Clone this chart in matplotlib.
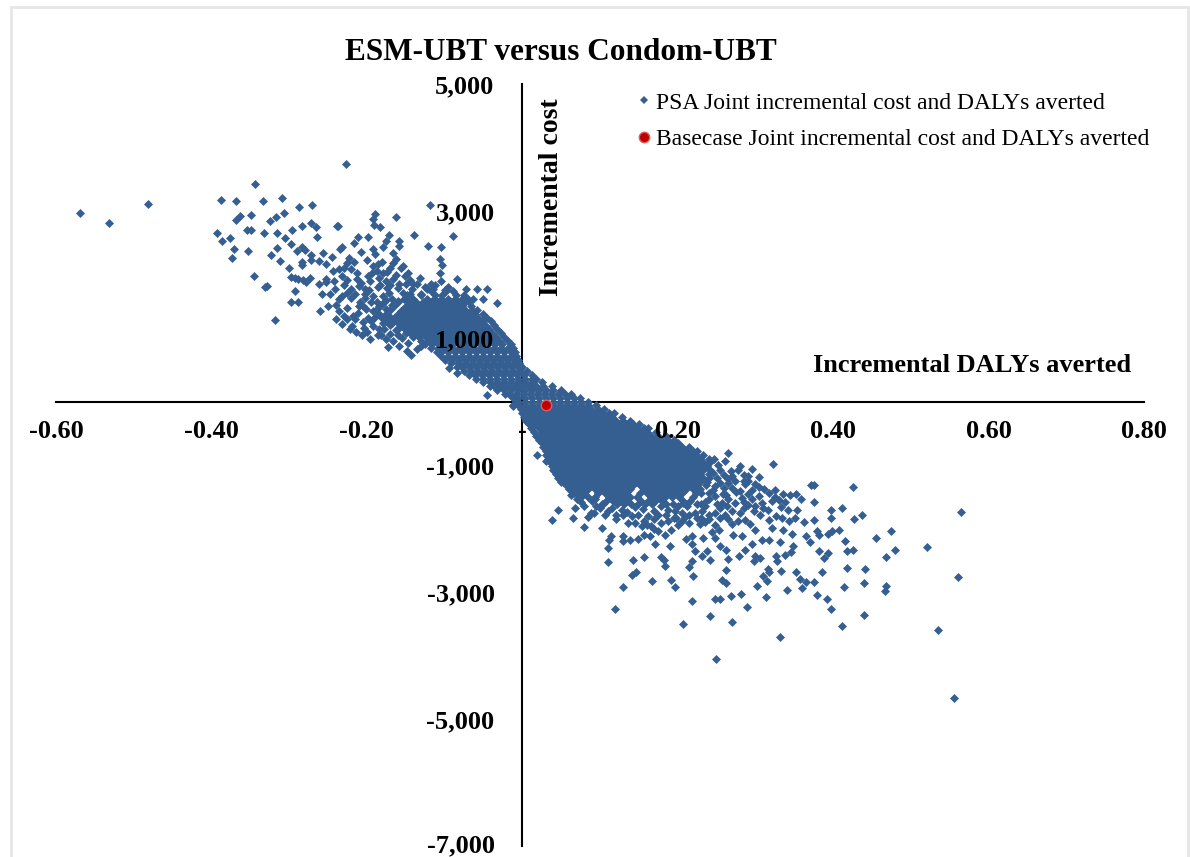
import numpy as np
import matplotlib.pyplot as plt
from matplotlib.lines import Line2D
from matplotlib.patches import Rectangle
from matplotlib.transforms import ScaledTranslation

plt.rcParams['font.family'] = ['Liberation Serif', 'DejaVu Serif']

title = 'ESM-UBT versus Condom-UBT'
x_ticks = [-0.6, -0.4, -0.2, 0, 0.2, 0.4, 0.6, 0.8]
x_tick_labels = ['-0.60', '-0.40', '-0.20', '-', '0.20', '0.40', '0.60', '0.80']
y_ticks = [5000, 3000, 1000, -1000, -3000, -5000, -7000]
y_tick_labels = ['5,000', '3,000', '1,000', '-1,000', '-3,000', '-5,000', '-7,000']
base_x = [0.0305]
base_y = [-58]

# left tail
left_tail = [
    (-.569, 2961), (-.532, 2814), (-.482, 3103), (-.388, 3171), (-.368, 3155), (-.344, 3428), (-.333, 3155),
    (-.309, 3208), (-.287, 3066), (-.270, 3098), (-.227, 3743), (-.119, 3087), (-.393, 2657), (-.387, 2530),
    (-.376, 2578), (-.371, 2405), (-.374, 2252), (-.353, 2363), (-.363, 2924), (-.369, 2851), (-.349, 2940),
    (-.354, 2699), (-.349, 2699), (-.332, 2657), (-.325, 2835), (-.317, 2898), (-.307, 2972), (-.315, 2646),
    (-.305, 2573), (-.296, 2699), (-.284, 2762), (-.298, 2483), (-.315, 2410), (-.323, 2305), (-.312, 2210),
    (-.345, 1974), (-.331, 1811), (-.329, 1825), (-.292, 1743), (-.297, 1565), (-.288, 1565), (-.318, 1276),
    (-.300, 2095), (-.272, 2809), (-.266, 2746), (-.264, 2588), (-.239, 2762), (-.237, 2770), (-.290, 2368),
    (-.284, 2436), (-.279, 2384), (-.272, 2300), (-.272, 2226), (-.283, 2200), (-.284, 2142), (-.257, 2331),
    (-.261, 2216), (-.245, 2273), (-.252, 2158), (-.297, 1964), (-.292, 1950), (-.288, 1935), (-.282, 1915),
    (-.278, 1875), (-.273, 1950), (-.261, 1843), (-.252, 1880), (-.258, 1696), (-.241, 1764), (-.260, 1423),
    (-.234, 2394), (-.232, 2436), (-.217, 2489), (-.211, 2594), (-.199, 2588), (-.207, 2352), (-.190, 2945),
    (-.192, 2867), (-.191, 2772), (-.183, 2746), (-.163, 2909), (-.171, 2615), (-.175, 2525), (-.179, 2436),
    (-.159, 2525), (-.158, 2445), (-.139, 2615), (-.121, 2447), (-.104, 2436), (-.089, 2604), (-.106, 2237),
    (-.103, 2142), (-.106, 2027), (-.104, 1895), (-.084, 1922), (-.073, 1764), (-.058, 1764), (-.045, 1775),
    (-.033, 1544), (-.050, 1607), (-.063, 1622), (-.236, 2079), (-.232, 1974), (-.223, 2263), (-.225, 2185),
    (-.216, 2195), (-.221, 2079), (-.236, 1607), (-.225, 1711), (-.221, 1764), (-.232, 1659), (-.210, 1817),
    (-.203, 1764), (-.192, 2394), (-.190, 2315), (-.166, 2341), (-.162, 2237), (-.166, 2184), (-.192, 2131),
    (-.186, 2158), (-.194, 2027), (-.179, 2027), (-.184, 1948), (-.196, 1895), (-.166, 1922), (-.158, 1843),
    (-.147, 2027), (-.132, 1948), (-.141, 1843), (-.122, 1764), (-.153, 1711), (-.171, 1711), (-.179, 1659),
    (-.192, 1659), (-.203, 1633), (-.210, 1501), (-.201, 1449), (-.192, 1423), (-.184, 1501), (-.236, 1423),
    (-.230, 1344), (-.225, 1292), (-.215, 1292), (-.219, 1186), (-.222, 1134), (-.204, 1150), (-.196, 992),
    (-.186, 1055), (-.192, 1186), (-.179, 1239), (-.173, 856), (-.158, 871), (-.166, 950), (-.143, 740),
    (-.136, 819), (-.147, 924), (-.094, 530), (-.084, 451), (-.045, 110), (-.012, -63), (-.183, 1830),
    (-.174, 2040), (-.170, 2100), (-.153, 2130), (-.151, 1980), (-.118, 1850), (-.095, 1800), (-.209, 1560),
    (-.198, 1320), (-.185, 1380), (-.244, 2050), (-.252, 1930), (-.213, 1935), (-.197, 1760), (-.150, 1850),
    (-.160, 1780), (-.142, 1770), (-.174, 1785), (-.187, 1560), (-.205, 1250), (-.212, 1400), (-.225, 1480),
    (-.178, 1140), (-.170, 1060), (-.155, 1000), (-.148, 800), (-.130, 880), (-.170, 1330), (-.202, 1690),
    (-.240, 1300), (-.232, 1220), (-.218, 1350), (-.214, 1100), (-.206, 1040), (-.200, 1100), (-.195, 1260),
    (-.190, 1330), (-.185, 1140), (-.182, 1040), (-.176, 980), (-.168, 1240), (-.163, 1130), (-.158, 1220),
    (-.156, 1420), (-.175, 1450), (-.168, 1520), (-.160, 1590), (-.176, 1600), (-.195, 1570), (-.205, 1500),
    (-.220, 1630), (-.215, 1700), (-.207, 1860), (-.198, 1970), (-.187, 2060), (-.175, 1900), (-.170, 1830),
    (-.163, 1990), (-.156, 2100), (-.145, 1910), (-.135, 1850), (-.125, 1800), (-.112, 1830), (-.100, 1760),
    (-.230, 1840), (-.226, 1910), (-.242, 1900), (-.248, 1700), (-.250, 1500), (-.240, 1520), (-.186, 1800),
    (-.180, 2200), (-.200, 2230), (-.213, 2020), (-.230, 2100), (-.152, 1620), (-.145, 1700), (-.130, 1700),
    (-.115, 1770), (-.160, 1040), (-.150, 1130), (-.145, 1080),
]

# upper part of the dense band: (cost, [dalys])
upper_rows = [
    (1740, [-.118, -.098, -.089]),
    (1680, [-.148, -.130, -.112, -.103, -.085, -.075]),
    (1620, [-.168, -.150, -.141, -.123, -.114, -.105, -.096, -.087, -.078, -.070]),
    (1560, [-.178, -.160, -.146, -.137, -.128, -.119, -.110, -.101, -.092, -.083, -.074, -.068]),
    (1500, [-.183, -.165, -.150, -.141, -.132, -.123, -.114, -.105, -.096, -.087, -.078, -.066]),
    (1440, [-.188, -.170, -.155, -.146, -.137, -.128, -.119, -.110, -.101, -.092, -.083, -.074, -.065, -.058]),
    (1380, [-.176, -.160, -.151, -.142, -.133, -.124, -.115, -.106, -.097, -.088, -.079, -.070, -.061, -.050]),
    (1320, [-.180, -.165, -.156, -.147, -.138, -.129, -.120, -.111, -.102, -.093, -.084, -.075, -.066, -.057, -.045]),
    (1260, [-.175, -.160, -.151, -.142, -.133, -.124, -.115, -.106, -.097, -.088, -.079, -.070, -.061, -.052, -.040]),
    (1200, [-.170, -.156, -.147, -.138, -.129, -.120, -.111, -.102, -.093, -.084, -.075, -.066, -.057, -.048, -.036]),
    (1140, [-.160, -.151, -.142, -.133, -.124, -.115, -.106, -.097, -.088, -.079, -.070, -.061, -.052, -.043, -.032]),
    (1080, [-.150, -.138, -.129, -.120, -.111, -.102, -.093, -.084, -.075, -.066, -.057, -.048, -.039, -.027]),
    (1020, [-.140, -.133, -.124, -.115, -.106, -.097, -.088, -.079, -.070, -.061, -.052, -.043, -.034, -.023]),
    (960, [-.130, -.120, -.111, -.102, -.093, -.084, -.075, -.066, -.057, -.048, -.039, -.030, -.018]),
    (900, [-.125, -.116, -.107, -.098, -.089, -.080, -.071, -.062, -.053, -.044, -.035, -.026, -.014]),
    (840, [-.118, -.109, -.100, -.091, -.082, -.073, -.064, -.055, -.046, -.037, -.028, -.019, -.012]),
    (780, [-.110, -.104, -.095, -.086, -.077, -.068, -.059, -.050, -.041, -.032, -.023, -.014, -.010]),
    (720, [-.105, -.096, -.087, -.078, -.069, -.060, -.051, -.042, -.033, -.024, -.015, -.008]),
    (660, [-.100, -.091, -.082, -.073, -.064, -.055, -.046, -.037, -.028, -.019, -.010, -.006]),
    (600, [-.092, -.083, -.074, -.065, -.056, -.047, -.038, -.029, -.020, -.011, -.004]),
    (540, [-.084, -.078, -.069, -.060, -.051, -.042, -.033, -.024, -.015, -.006, .000]),
    (480, [-.075, -.066, -.057, -.048, -.039, -.030, -.021, -.012, -.003, .006]),
    (420, [-.068, -.061, -.052, -.043, -.034, -.025, -.016, -.007, .002, .012]),
    (360, [-.060, -.051, -.042, -.033, -.024, -.015, -.006, .003, .012, .018]),
    (300, [-.050, -.041, -.032, -.023, -.014, -.005, .004, .013, .025]),
    (240, [-.042, -.036, -.027, -.018, -.009, .000, .009, .018, .027, .038]),
    (180, [-.032, -.023, -.014, -.005, .004, .013, .022, .031, .040, .050]),
    (120, [-.022, -.017, -.008, .001, .010, .019, .028, .037, .046, .055, .063]),
    (60, [-.012, -.006, .003, .012, .021, .030, .039, .048, .057, .066, .074]),
    (0, [-.006, .003, .012, .021, .030, .039, .048, .057, .066, .075, .085]),
]

# lower part of the dense band
lower_rows = [
    (-60, [-.005, .004, .013, .022, .031, .040, .049, .058, .067, .076, .085, .095]),
    (-120, [-.002, .008, .017, .026, .035, .044, .053, .062, .071, .080, .089, .098, .105]),
    (-180, [.000, .004, .013, .022, .031, .040, .049, .058, .067, .076, .085, .094, .103, .112, .118]),
    (-240, [.002, .008, .017, .026, .035, .044, .053, .062, .071, .080, .089, .098, .107, .116, .128]),
    (-300, [.005, .013, .022, .031, .040, .049, .058, .067, .076, .085, .094, .103, .112, .121, .130, .138]),
    (-360, [.008, .017, .026, .035, .044, .053, .062, .071, .080, .089, .098, .107, .116, .125, .134, .143, .150]),
    (-420, [.011, .022, .031, .040, .049, .058, .067, .076, .085, .094, .103, .112, .121, .130, .139, .148, .157, .162]),
    (-480, [.015, .026, .035, .044, .053, .062, .071, .080, .089, .098, .107, .116, .125, .134, .143, .152, .161, .172]),
    (-540, [.018, .022, .031, .040, .049, .058, .067, .076, .085, .094, .103, .112, .121, .130, .139, .148, .157, .166, .175, .185]),
    (-600, [.022, .026, .035, .044, .053, .062, .071, .080, .089, .098, .107, .116, .125, .134, .143, .152, .161, .170, .179, .188, .195]),
    (-660, [.025, .031, .040, .049, .058, .067, .076, .085, .094, .103, .112, .121, .130, .139, .148, .157, .166, .175, .184, .193, .200]),
    (-720, [.027, .035, .044, .053, .062, .071, .080, .089, .098, .107, .116, .125, .134, .143, .152, .161, .170, .179, .188, .197, .206, .215]),
    (-780, [.030, .040, .049, .058, .067, .076, .085, .094, .103, .112, .121, .130, .139, .148, .157, .166, .175, .184, .193, .202, .211, .220, .225]),
    (-840, [.031, .035, .044, .053, .062, .071, .080, .089, .098, .107, .116, .125, .134, .143, .152, .161, .170, .179, .188, .197, .206, .215, .224, .232]),
    (-900, [.033, .040, .049, .058, .067, .076, .085, .094, .103, .112, .121, .130, .139, .148, .157, .166, .175, .184, .193, .202, .211, .220, .229, .240]),
    (-960, [.036, .044, .053, .062, .071, .080, .089, .098, .107, .116, .125, .134, .143, .152, .161, .170, .179, .188, .197, .206, .215, .224, .233, .242]),
    (-1020, [.038, .049, .058, .067, .076, .085, .094, .103, .112, .121, .130, .139, .148, .157, .166, .175, .184, .193, .202, .211, .220, .229, .238]),
    (-1080, [.040, .044, .053, .062, .071, .080, .089, .098, .107, .116, .125, .134, .143, .152, .161, .170, .179, .188, .197, .206, .215, .224, .233, .242]),
    (-1140, [.043, .049, .058, .067, .076, .085, .094, .103, .112, .121, .130, .139, .148, .157, .166, .175, .184, .193, .202, .211, .220, .229, .240]),
    (-1200, [.046, .053, .062, .071, .080, .089, .098, .107, .116, .125, .134, .143, .152, .161, .170, .179, .188, .197, .206, .215, .224, .233, .240]),
    (-1260, [.050, .058, .067, .076, .085, .094, .103, .112, .121, .130, .139, .148, .157, .166, .175, .184, .193, .202, .211, .220, .229, .238]),
    (-1320, [.056, .062, .071, .080, .089, .098, .107, .116, .125, .134, .143, .152, .161, .170, .179, .188, .197, .206, .215, .224, .236]),
    (-1380, [.060, .067, .076, .085, .094, .103, .112, .121, .130, .139, .157, .166, .175, .184, .193, .202, .211, .220, .229]),
    (-1440, [.066, .071, .080, .098, .107, .116, .125, .134, .152, .161, .170, .179, .188, .197, .206, .224, .230]),
    (-1500, [.076, .085, .094, .112, .121, .130, .139, .148, .166, .175, .184, .193, .202, .220]),
    (-1560, [.090, .108, .117, .126, .135, .153, .162, .171, .180, .207, .216]),
    (-1620, [.104, .122, .131, .140, .149, .158, .167, .185, .194, .230]),
]

# lower right tail
right_tail = [
    (.565, -1743), (.521, -2284), (.561, -2767), (.535, -3601), (.555, -4667), (.475, -2032), (.455, -2147),
    (.480, -2342), (.468, -2452), (.425, -1344), (.437, -1785), (.427, -1843), (.412, -1670), (.397, -1712),
    (.397, -1827), (.407, -2016), (.398, -2042), (.394, -2079), (.415, -2195), (.425, -2331), (.418, -2347),
    (.393, -2384), (.388, -2462), (.382, -2357), (.379, -2042), (.382, -2110), (.365, -2121), (.370, -2216),
    (.376, -1859), (.375, -1580), (.371, -1313), (.375, -1313), (.363, -1900), (.418, -2615), (.441, -2641),
    (.440, -2861), (.414, -2924), (.468, -2908), (.467, -2977), (.386, -2678), (.392, -3103), (.379, -3040),
    (.397, -3260), (.440, -3365), (.412, -3533), (.331, -3701), (.249, -4048), (.376, -2840), (.365, -2846),
    (.360, -2935), (.357, -2793), (.352, -2683), (.341, -2966), (.333, -2672), (.316, -2630), (.317, -2688),
    (.310, -2751), (.315, -2819), (.302, -2908), (.314, -3076), (.289, -3229), (.281, -3029), (.269, -3066),
    (.255, -3108), (.248, -3108), (.219, -3134), (.270, -3465), (.242, -3376), (.207, -3497), (.119, -3260),
    (.129, -2919), (.167, -2825), (.192, -2814), (.196, -2924), (.257, -2804), (.262, -2856), (.262, -2651),
    (.141, -2725), (.146, -2688), (.220, -2751), (.215, -2604), (.219, -2515), (.184, -2583), (.182, -2489),
    (.178, -2447), (.157, -2441), (.143, -2489), (.110, -2525), (.110, -2305), (.111, -2174), (.114, -2121),
    (.129, -2189), (.129, -2121), (.139, -2174), (.149, -2158), (.190, -2279), (.171, -2237), (.211, -2163),
    (.219, -2121), (.219, -2237), (.222, -2357), (.232, -2153), (.238, -2362), (.231, -2436), (.241, -2494),
    (.265, -2473), (.279, -2436), (.286, -2331), (.295, -2247), (.300, -2436), (.298, -2515), (.306, -2462),
    (.326, -2436), (.328, -2515), (.338, -2420), (.346, -2373), (.348, -2279), (.332, -2210), (.317, -2174),
    (.309, -2174), (.271, -2095), (.283, -2121), (.255, -2279), (.262, -2331), (.248, -2147), (.102, -1990),
    (.080, -1969), (.065, -1832), (.038, -1874), (.046, -1712), (.068, -1675), (.019, -850), (.031, -940),
    (-.012, -58), (.005, -294), (.063, -1465), (.084, -1817), (.092, -1754), (.107, -1790), (.323, -987),
    (.265, -814), (.261, -940), (.255, -1071), (.280, -1019), (.277, -1082), (.295, -1061), (.304, -1192),
    (.291, -1255), (.287, -1307), (.270, -1176), (.274, -1255), (.255, -1281), (.259, -1360), (.270, -1360),
    (.280, -1412), (.295, -1386), (.311, -1376), (.317, -1438), (.304, -1491), (.295, -1543), (.321, -1570),
    (.308, -1596), (.345, -1475), (.352, -1454), (.358, -1528), (.338, -1580), (.333, -1659), (.342, -1701),
    (.354, -1712), (.316, -1712), (.298, -1727), (.306, -1780), (.274, -1596), (.283, -1517), (.270, -1727),
    (.257, -1596), (.248, -1491), (.240, -1438), (.235, -1649), (.248, -1754), (.261, -1780), (.278, -1885),
    (.270, -1937), (.287, -1859), (.293, -1937), (.300, -2016), (.317, -1859), (.326, -1806), (.334, -1835),
    (.343, -1885), (.351, -1832), (.336, -2016), (.347, -2079), (.321, -1990), (.248, -1950), (.253, -2020),
    (.244, -2050), (.222, -1754), (.214, -1780), (.231, -1727), (.205, -1754), (.197, -1727), (.188, -1701),
    (.179, -1649), (.205, -1885), (.214, -1911), (.229, -1937), (.192, -2016), (.184, -2095), (.175, -2042),
    (.164, -2121), (.156, -2095), (.145, -1911), (.136, -1911), (.154, -1964), (.166, -1964), (.179, -1911),
    (.188, -1885), (.141, -1806), (.149, -1780), (.162, -1806), (.128, -1701), (.121, -1780), (.115, -1675),
    (.102, -1622), (.093, -1543), (.080, -1649), (.089, -1754), (.120, -1850), (.157, -1880), (.170, -1850),
    (.198, -1830), (.240, -1780), (.255, -1680), (.265, -1540), (.285, -1680), (.300, -1640), (.325, -1500),
    (.258, -1450), (.225, -1840), (.212, -1650), (.170, -1720), (.130, -1780),
    (.245, -1130), (.250, -1200), (.252, -1000), (.247, -900), (.260, -1150), (.265, -1220), (.268, -1090),
    (.285, -1150), (.290, -1180), (.248, -1330), (.245, -1390), (.265, -1290), (.285, -1250), (.300, -1300),
    (.305, -1340), (.325, -1400), (.335, -1450), (.330, -1550), (.240, -1530), (.235, -1590), (.262, -1470),
    (.275, -1430), (.290, -1450), (.285, -1580), (.290, -1630), (.263, -1640), (.250, -1620), (.240, -1850),
    (.235, -1900), (.230, -1830), (.200, -1640), (.207, -1600), (.225, -1620), (.145, -1660), (.155, -1700),
    (.175, -1780), (.185, -1790), (.195, -1830), (.210, -1820), (.135, -1740), (.100, -1680), (.110, -1720),
    (.160, -1950), (.170, -2000), (.200, -1950), (.070, -1540), (.075, -1590), (.095, -1640), (.280, -1760),
    (.265, -1850), (.255, -1830), (.310, -1680),
]

dense = [(x, y) for y, xs in upper_rows + lower_rows for x in xs]
psa = np.array(left_tail + dense + right_tail)

fig = plt.figure(figsize=(11.9, 8.57), dpi=100)
fig.add_artist(Rectangle((11 / 1190, -0.02), 1177 / 1190, 1 - 7 / 857 + 0.02, transform=fig.transFigure,
                         fill=False, edgecolor='#e6e6e6', linewidth=2))
ax = fig.add_axes([56 / 1190, 11 / 857, 1088 / 1190, 762 / 857])
ax.patch.set_visible(False)

ax.plot(psa[:, 0], psa[:, 1], linestyle='none', marker='D', ms=3.6, color='#355f91', mec='#355f91', mew=0.5, zorder=2)
ax.plot(base_x, base_y, linestyle='none', marker='o', ms=7.5, mfc='#c00000', mec='#d9605a', mew=1, zorder=2.2)

ax.set_xlim(-0.6, 0.8)
ax.set_ylim(-7000, 5000)
ax.set_axisbelow(False)
for name in ['top', 'right']:
    ax.spines[name].set_visible(False)
ax.spines['left'].set_position(('data', 0))
ax.spines['bottom'].set_position(('data', 0))
for name in ['left', 'bottom']:
    ax.spines[name].set_linewidth(1.5)
    ax.spines[name].set_zorder(1.5)

ax.set_xticks(x_ticks, x_tick_labels, fontsize=19, fontweight='bold')
ax.set_yticks(y_ticks, y_tick_labels, fontsize=19, fontweight='bold')
ax.tick_params(axis='x', length=0, pad=13)
ax.tick_params(axis='y', length=0, pad=20)
# bottom label sits right at the edge, nudge it up a little
last = ax.get_yticklabels()[-1]
last.set_transform(last.get_transform() + ScaledTranslation(0, 2 / 72, fig.dpi_scale_trans))

ax.text(0.037, 3220, 'Incremental cost', rotation=90, ha='center', va='center', fontsize=20, fontweight='bold')
ax.text(0.784, 565, 'Incremental DALYs averted', ha='right', va='center', fontsize=19, fontweight='bold')
fig.text(561 / 1190, 1 - 52 / 857, title, ha='center', va='center', fontsize=22.5, fontweight='bold')

handles = [
    Line2D([], [], linestyle='none', marker='D', ms=3.9, color='#355f91', mew=0),
    Line2D([], [], linestyle='none', marker='o', ms=7.5, mfc='#c00000', mec='#d9605a', mew=1),
]
ax.legend(handles, ['PSA Joint incremental cost and DALYs averted', 'Basecase Joint incremental cost and DALYs averted'],
          loc='upper left', bbox_to_anchor=(632 / 1190, 1 - 92 / 857), bbox_transform=fig.transFigure,
          frameon=False, fontsize=17, handlelength=1, handletextpad=0, labelspacing=0.65,
          borderpad=0, borderaxespad=0)

fig.savefig('out.png', dpi=100)
